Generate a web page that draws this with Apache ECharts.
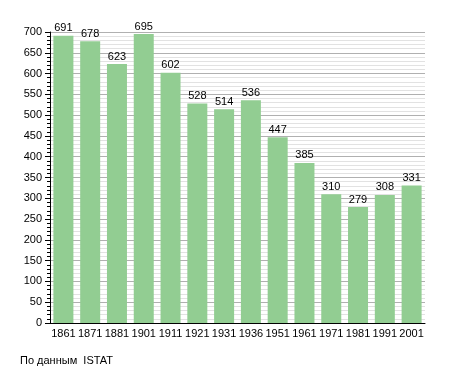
<!DOCTYPE html>
<html>
<head>
<meta charset="utf-8">
<script src="https://cdn.jsdelivr.net/npm/echarts@6/dist/echarts.min.js"></script>
<style>
html,body{margin:0;padding:0;background:#fff;}
#c{width:455px;height:373px;}
</style>
</head>
<body>
<div id="c"></div>
<script>
const years = ['1861','1871','1881','1901','1911','1921','1931','1936','1951','1961','1971','1981','1991','2001'];
const population = [691,678,623,695,602,528,514,536,447,385,310,279,308,331];
const sourceNote = 'По данным  ISTAT';

const chart = echarts.init(document.getElementById('c'));
const font = 'Liberation Sans, Arial, sans-serif';
chart.setOption({
  animation: false,
  backgroundColor: '#fff',
  grid: {left: 50, right: 30, top: 32, bottom: 50, containLabel: false},
  graphic: [{
    type: 'text', left: 20, top: 355,
    style: {text: sourceNote, font: '11px ' + font, fill: '#000'}
  }],
  xAxis: {
    type: 'category',
    data: years,
    axisLine: {lineStyle: {color: '#000', width: 1}},
    axisTick: {show: false},
    axisLabel: {color: '#000', fontSize: 11, fontFamily: font, margin: 5, interval: 0}
  },
  yAxis: {
    type: 'value',
    min: 0, max: 700, interval: 50,
    axisLine: {show: true, lineStyle: {color: '#000', width: 1}},
    axisTick: {show: true, length: 5, lineStyle: {color: '#000'}},
    minorTick: {show: true, splitNumber: 5, length: 3, lineStyle: {color: '#000'}},
    axisLabel: {color: '#000', fontSize: 11, fontFamily: font, margin: 8},
    splitLine: {show: true, lineStyle: {color: '#b0b0b0', width: 1}},
    minorSplitLine: {show: true, lineStyle: {color: '#e2e2e2', width: 1}}
  },
  series: [{
    type: 'bar',
    data: population,
    barWidth: 20,
    itemStyle: {color: '#92cd92'},
    label: {show: true, position: 'top', distance: 2, color: '#000', fontSize: 11, fontFamily: font}
  }]
});
</script>
</body>
</html>
